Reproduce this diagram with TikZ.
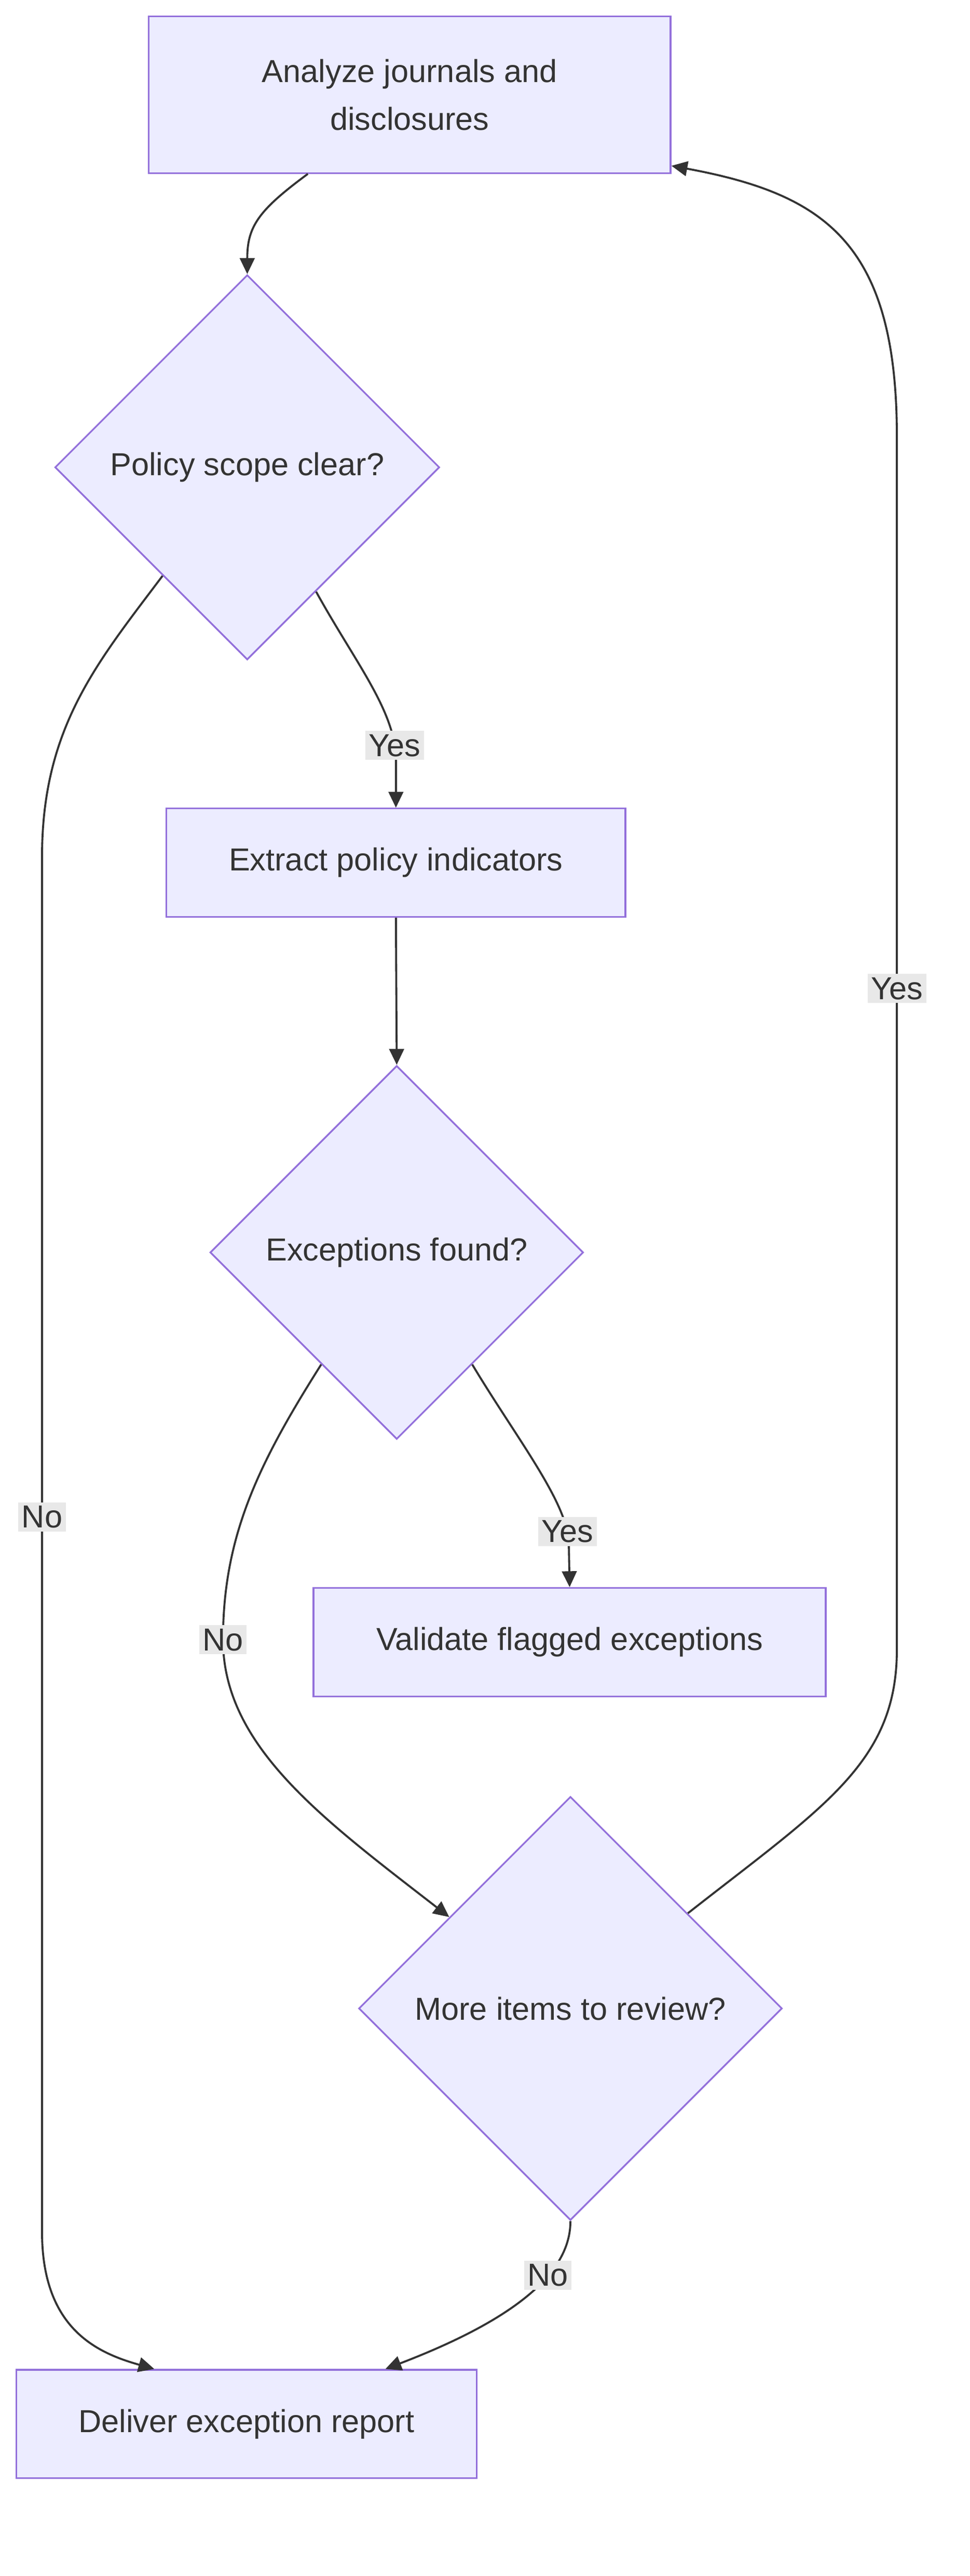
\documentclass[tikz,border=0pt]{standalone}
\usepackage{fontspec}
\setmainfont{Liberation Sans}
\usetikzlibrary{shapes.geometric,arrows.meta}
\definecolor{nfill}{HTML}{ECECFF}
\definecolor{nline}{HTML}{9370DB}
\definecolor{eline}{HTML}{333333}
\definecolor{lbl}{HTML}{E8E8E8}
\begin{document}
\begin{tikzpicture}[x=0.1cm,y=-0.1cm,
  every node/.style={font=\fontsize{56}{84}\selectfont, text=eline},
  box/.style={draw=nline, fill=nfill, line width=3pt, inner sep=0},
  dia/.style={diamond, draw=nline, fill=nfill, line width=3pt, inner sep=0},
  edge/.style={draw=eline, line width=3.5pt, -{Triangle[length=28pt,width=26pt]}},
  elbl/.style={fill=lbl, inner sep=6pt}]
\useasboundingbox (0,0) rectangle (600,1593);
\node[box, minimum width=32.3cm, minimum height=9.7cm, align=center] (a) at (253.5,58.5) {Analyze journals and\\disclosures};
\node[dia, minimum width=23.8cm, minimum height=23.8cm] (d1) at (153,289) {Policy scope clear?};
\node[box, minimum width=28.4cm, minimum height=6.7cm] (b) at (245,533.5) {Extract policy indicators};
\node[dia, minimum width=23.1cm, minimum height=23.1cm] (d2) at (245.5,774.5) {Exceptions found?};
\node[box, minimum width=31.7cm, minimum height=6.7cm] (c) at (352.5,1015.5) {Validate flagged exceptions};
\node[dia, minimum width=26.2cm, minimum height=26.2cm] (d3) at (353,1242) {More items to review?};
\node[box, minimum width=28.5cm, minimum height=6.7cm] (e) at (152.5,1499) {Deliver exception report};
\coordinate (ain) at ([yshift=0.5cm]a.south east);
\path[edge] ([xshift=-6.3cm]a.south) .. controls (160,130) and (153,140) .. (d1.north);
\path[edge] (d1.-61) .. controls (220,410) and (245,440) .. node[pos=0.9,elbl]{Yes} (245,470) -- (b.north);
\path[edge] (d1.-128) .. controls (60,410) and (26,450) .. (26,530) -- node[elbl,pos=0.48]{No} (26,1380) .. controls (26,1440) and (60,1455) .. ([xshift=-5.7cm]e.north);
\path[edge] (b.south) -- (d2.north);
\path[edge] (d2.-56) .. controls (320,890) and (352,930) .. node[pos=0.9,elbl]{Yes} (352,955) -- (c.north);
\path[edge] (d2.-124) .. controls (160,905) and (138,950) .. (138,1014) node[elbl]{No} .. controls (138,1080) and (200,1125) .. (d3.143);
\path[edge] (d3.39) .. controls (510,1117) and (555,1090) .. (555,1020) -- node[elbl,pos=0.545]{Yes} (555,270) .. controls (555,150) and (510,120) .. (ain);
\path[edge] (d3.south) .. controls (353,1400) and (330,1430) .. node[pos=0.4,elbl]{No} ([xshift=8.6cm]e.north);
\end{tikzpicture}
\end{document}
